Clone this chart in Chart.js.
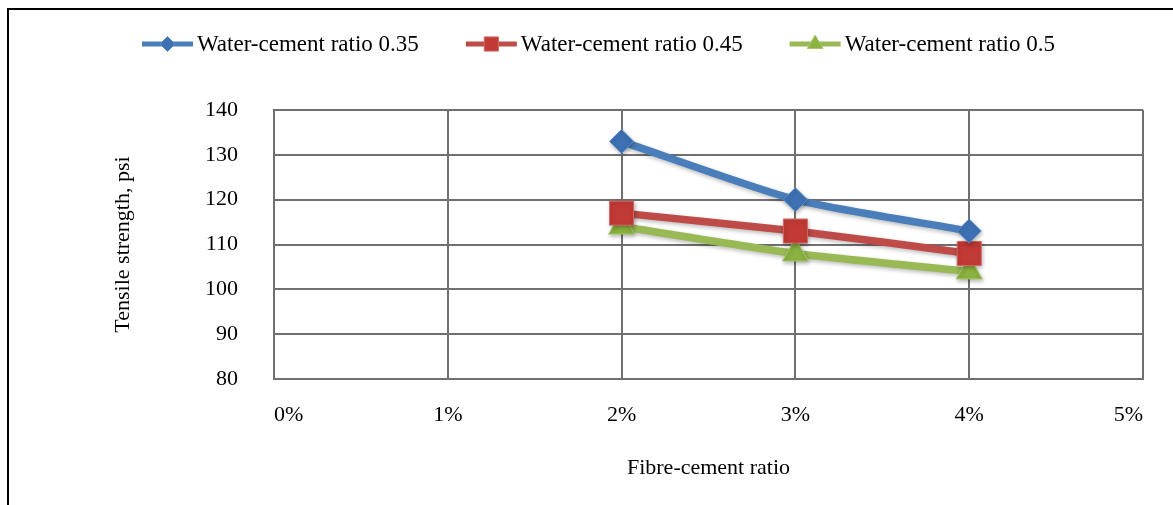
<!DOCTYPE html>
<html>
<head>
<meta charset="utf-8">
<script src="https://cdn.jsdelivr.net/npm/chart.js@4/dist/chart.umd.min.js"></script>
<style>
  html, body { margin: 0; padding: 0; background: #fff; }
  #wrap { position: relative; width: 1173px; height: 505px; overflow: hidden; }
  #frame { position: absolute; left: 7px; top: 8px; width: 1240px; height: 620px;
           border: 2.5px solid #000; box-sizing: border-box; }
  canvas { position: absolute; left: 0; top: 0; }
</style>
</head>
<body>
<div id="wrap">
  <div id="frame"></div>
  <canvas id="c" width="1173" height="505"></canvas>
</div>
<script>
// Fibre-cement ratio categories (x axis)
const fibreRatios = ['0%', '1%', '2%', '3%', '4%', '5%'];
// Tensile strength (psi) for each water-cement ratio
const wc035 = [null, null, 133, 120, 113, null];
const wc045 = [null, null, 117, 113, 108, null];
const wc050 = [null, null, 114, 108, 104, null];
const seriesNames = ['Water-cement ratio 0.35', 'Water-cement ratio 0.45', 'Water-cement ratio 0.5'];
// Y axis range and step
const yMin = 80, yMax = 140, yStep = 10;

const FONT = '"Liberation Serif", "Times New Roman", serif';
const GRID = '#707070';

const styles = [
  { line: '#4a7ebb', fill: '#3d71b3', edge: '#5b8dcb', shape: 'rectRot', r: 12, lr: 7.5 },
  { line: '#be4b48', fill: '#c23a35', edge: '#d06a66', shape: 'rect', r: 17, lr: 10 },
  { line: '#98b954', fill: '#8cb240', edge: '#a6c86a', shape: 'triangle', r: 15, lr: 9 }
];
const values = [wc035, wc045, wc050];

const datasets = values.map((v, i) => ({
  label: seriesNames[i],
  data: v,
  borderColor: styles[i].line,
  borderWidth: 7.5,
  tension: 0.22,
  pointStyle: styles[i].shape,
  pointRadius: styles[i].r,
  pointHoverRadius: styles[i].r,
  pointBackgroundColor: styles[i].fill,
  pointBorderColor: styles[i].edge,
  pointBorderWidth: 1
}));

// Soft drop shadow under series, like the office-style chart
const shadowPlugin = {
  id: 'seriesShadow',
  beforeDatasetDraw(chart) {
    const ctx = chart.ctx;
    ctx.save();
    ctx.shadowColor = 'rgba(0,0,0,0.28)';
    ctx.shadowBlur = 4;
    ctx.shadowOffsetX = 1;
    ctx.shadowOffsetY = 2;
  },
  afterDatasetDraw(chart) { chart.ctx.restore(); }
};

// Legend row: line segment with centred marker, then the series name
const lineLegend = {
  id: 'lineLegend',
  afterDraw(chart) {
    const ctx = chart.ctx;
    const y = 44;
    let x = 142;
    ctx.save();
    ctx.font = '23px ' + FONT;
    ctx.textBaseline = 'middle';
    chart.data.datasets.forEach((ds, i) => {
      const s = styles[i];
      ctx.strokeStyle = s.line;
      ctx.lineWidth = 5;
      ctx.lineCap = 'butt';
      ctx.beginPath();
      ctx.moveTo(x, y);
      ctx.lineTo(x + 51, y);
      ctx.stroke();
      ctx.lineWidth = 1;
      ctx.fillStyle = s.fill;
      ctx.strokeStyle = s.edge;
      Chart.helpers.drawPoint(ctx, { pointStyle: s.shape, radius: s.lr, rotation: 0, borderWidth: 1 }, x + 25.5, y);
      ctx.fillStyle = '#000';
      ctx.textAlign = 'left';
      ctx.fillText(ds.label, x + 55, y + 1);
      x += 55 + ctx.measureText(ds.label).width + 47;
    });
    ctx.restore();
  }
};

new Chart(document.getElementById('c'), {
  type: 'line',
  data: { labels: fibreRatios, datasets },
  plugins: [shadowPlugin, lineLegend],
  options: {
    responsive: false,
    animation: false,
    events: [],
    layout: { padding: { left: 100, right: 30, top: 110, bottom: 10 } },
    plugins: { legend: { display: false }, tooltip: { enabled: false } },
    scales: {
      x: {
        type: 'category',
        offset: false,
        grid: { color: GRID, lineWidth: 2, drawTicks: false },
        border: { color: GRID, width: 2 },
        ticks: { color: '#000', font: { family: FONT, size: 22, lineHeight: 2 }, padding: 14,
                 align: 'inner', maxRotation: 0, autoSkip: false },
        title: { display: true, text: 'Fibre-cement ratio', color: '#000',
                 font: { family: FONT, size: 22 }, padding: { top: 0, bottom: 14 } },
        afterFit(scale) { scale.height = 116; }
      },
      y: {
        min: yMin, max: yMax,
        grid: { color: GRID, lineWidth: 2, drawTicks: false },
        border: { color: GRID, width: 2 },
        ticks: { stepSize: yStep, color: '#000', font: { family: FONT, size: 22 }, padding: 36 },
        title: { display: true, text: 'Tensile strength, psi', color: '#000',
                 font: { family: FONT, size: 22 }, padding: { top: 10, bottom: 0 } },
        afterFit(scale) { scale.width = 174; }
      }
    }
  }
});
</script>
</body>
</html>
